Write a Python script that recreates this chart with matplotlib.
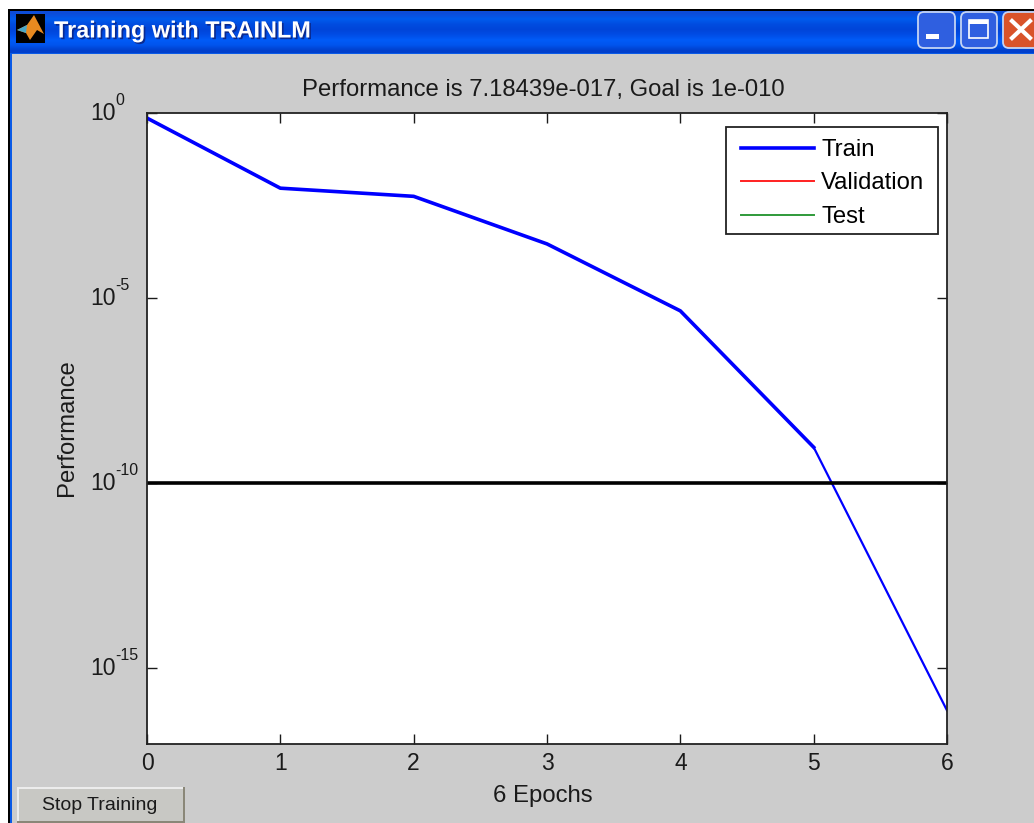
import numpy as np
import matplotlib
matplotlib.use("Agg")
import matplotlib.pyplot as plt
import matplotlib.patheffects as pe
from matplotlib.patches import Rectangle, FancyBboxPatch, Polygon

plt.rcParams['font.family'] = ['Liberation Sans', 'DejaVu Sans']

# 数据
epochs = [0, 1, 2, 3, 4, 5, 6]
train_perf = [0.73, 9.3e-3, 5.6e-3, 2.9e-4, 4.5e-6, 9.3e-10, 7.18439e-17]
goal = 1e-10
x_ticks = [0, 1, 2, 3, 4, 5, 6]
y_ticks = [1e0, 1e-5, 1e-10, 1e-15]
y_exponents = ["0", "-5", "-10", "-15"]
legend_labels = ["Train", "Validation", "Test"]
title_text = "Performance is 7.18439e-017, Goal is 1e-010"
window_title = "Training with TRAINLM"

W, H = 1034, 823
GREY = '#cccccc'
INK = '#1a1a1a'
fig = plt.figure(figsize=(W/100, H/100), dpi=100, facecolor='white')

# 窗口外框，坐标直接用像素
bg = fig.add_axes([0, 0, 1, 1], zorder=0)
bg.set_xlim(0, W)
bg.set_ylim(H, 0)
bg.axis('off')
bg.add_patch(Rectangle((8, 9), W-8, H-9, fc='black', lw=0))
bg.add_patch(Rectangle((10, 11), W-10, H-11, fc='#0a5ae6', lw=0))
bg.add_patch(Rectangle((12, 54), W-12, H-54, fc=GREY, lw=0))
# 标题栏渐变
grad = np.array([[0.05, 0.30, 0.85], [0.0, 0.36, 0.93], [0.0, 0.30, 0.88], [0.0, 0.27, 0.85],
                 [0.0, 0.30, 0.90], [0.0, 0.36, 0.97], [0.0, 0.33, 0.93], [0.0, 0.25, 0.80]])
bg.imshow(grad[:, None, :], extent=(10, W, 53, 11), aspect='auto', interpolation='bilinear', zorder=1)
bg.set_xlim(0, W)
bg.set_ylim(H, 0)

# 图标
bg.add_patch(Rectangle((16, 14), 29, 29, fc='black', lw=0, zorder=2))
bg.add_patch(Polygon([[17, 30], [27, 25], [34, 15], [44, 34], [37, 30], [30, 40], [26, 33]], fc='#e88a20', lw=0, zorder=3))
bg.add_patch(Polygon([[17, 30], [27, 25], [26, 33]], fc='#4aa8c8', lw=0, zorder=4))
bg.text(54, 31, window_title, color='white', fontsize=16.9, fontweight='bold', va='center', ha='left', zorder=3,
        path_effects=[pe.withSimplePatchShadow(offset=(1.2, -1.2), shadow_rgbFace='#0a2a90', alpha=1)])

# 窗口按钮
for x0, x1, col in [(918, 955, '#2f5fe0'), (961, 997, '#2f5fe0'), (1003, 1050, '#d9532a')]:
    bg.add_patch(FancyBboxPatch((x0, 12), x1-x0, 36, boxstyle='round,pad=0,rounding_size=6', fc=col, ec='#c4d4f4', lw=1.3, zorder=3))
bg.add_patch(Rectangle((926, 34), 13, 5, fc='white', lw=0, zorder=4))
bg.add_patch(Rectangle((969, 20), 19, 18, fc='none', ec='white', lw=1.2, zorder=4))
bg.add_patch(Rectangle((969, 20), 19, 4, fc='white', lw=0, zorder=4))
bg.plot([1012, 1030], [21, 38], color='white', lw=3, zorder=4)
bg.plot([1012, 1030], [38, 21], color='white', lw=3, zorder=4)

# Stop Training 按钮
bg.add_patch(Rectangle((17, 787), 168, 36, fc='#8a8778', lw=0, zorder=2))
bg.add_patch(Rectangle((17, 787), 166, 34, fc='#ececec', lw=0, zorder=3))
bg.add_patch(Rectangle((19, 789), 164, 32, fc='#c8c8c4', lw=0, zorder=4))
bg.text(100, 806, "Stop Training", fontsize=14, color=INK, ha='center', va='center', zorder=5)

# 主图
left, right, top, bottom = 147, 947, 113, 744
ax = fig.add_axes([left/W, 1-bottom/H, (right-left)/W, (bottom-top)/H], zorder=1)
ax.set_yscale('log')
ax.set_xlim(0, 6)
ax.set_ylim(8.9e-18, 1)
ax.plot(epochs[:6], train_perf[:6], color='#0000ff', lw=2.6, label=legend_labels[0], solid_joinstyle='round')
ax.plot(epochs[5:], train_perf[5:], color='#0000ff', lw=1.6)
ax.plot([], [], color='#ff2020', lw=1.4, label=legend_labels[1])
ax.plot([], [], color='#2f9a3a', lw=1.4, label=legend_labels[2])
ax.plot([0, 6], [goal, goal], color='black', lw=2.6)

ax.set_xticks(x_ticks)
ax.set_yticks(y_ticks)
ax.set_yticklabels(["10"]*len(y_ticks), ha='left', va='center')
ax.minorticks_off()
ax.tick_params(axis='both', which='major', direction='in', top=True, right=True, length=7.5, width=1.0,
               labelsize=16.5, colors=INK)
ax.tick_params(axis='x', pad=6)
ax.tick_params(axis='y', pad=41)
for s in ax.spines.values():
    s.set_linewidth(1.3)
    s.set_color('#222222')

# 指数单独写，左对齐的 10 后面跟上标
for v, e in zip(y_ticks, y_exponents):
    ax.annotate(e, xy=(0, v), xycoords=('axes fraction', 'data'), xytext=(-23, 9), textcoords='offset points',
                fontsize=11.5, color=INK, ha='left', va='center', annotation_clip=False)

ax.set_title(title_text, fontsize=17.2, color=INK, pad=12, x=(543.5-left)/(right-left))
ax.set_xlabel("6 Epochs", fontsize=17.2, color=INK, labelpad=7, x=(543-left)/(right-left))
ax.set_ylabel("Performance", fontsize=17.2, color=INK, labelpad=9, y=(bottom-428)/(bottom-top))

# 图例的框单独画，里面的留白和默认不一样
bw, bh = right-left, bottom-top
ax.add_patch(Rectangle(((726-left)/bw, (bottom-234)/bh), 212/bw, 107/bh, transform=ax.transAxes,
                       fc='white', ec='#222222', lw=1.3, zorder=4))
leg = ax.legend(loc='upper left', bbox_to_anchor=((741-left)/bw, (bottom-139)/bh), borderaxespad=0, borderpad=0,
                fontsize=17.2, frameon=False, handlelength=3.05, handletextpad=0.3, labelspacing=0.48)
leg.set_zorder(5)

plt.savefig("out.png", dpi=100, facecolor=fig.get_facecolor())
